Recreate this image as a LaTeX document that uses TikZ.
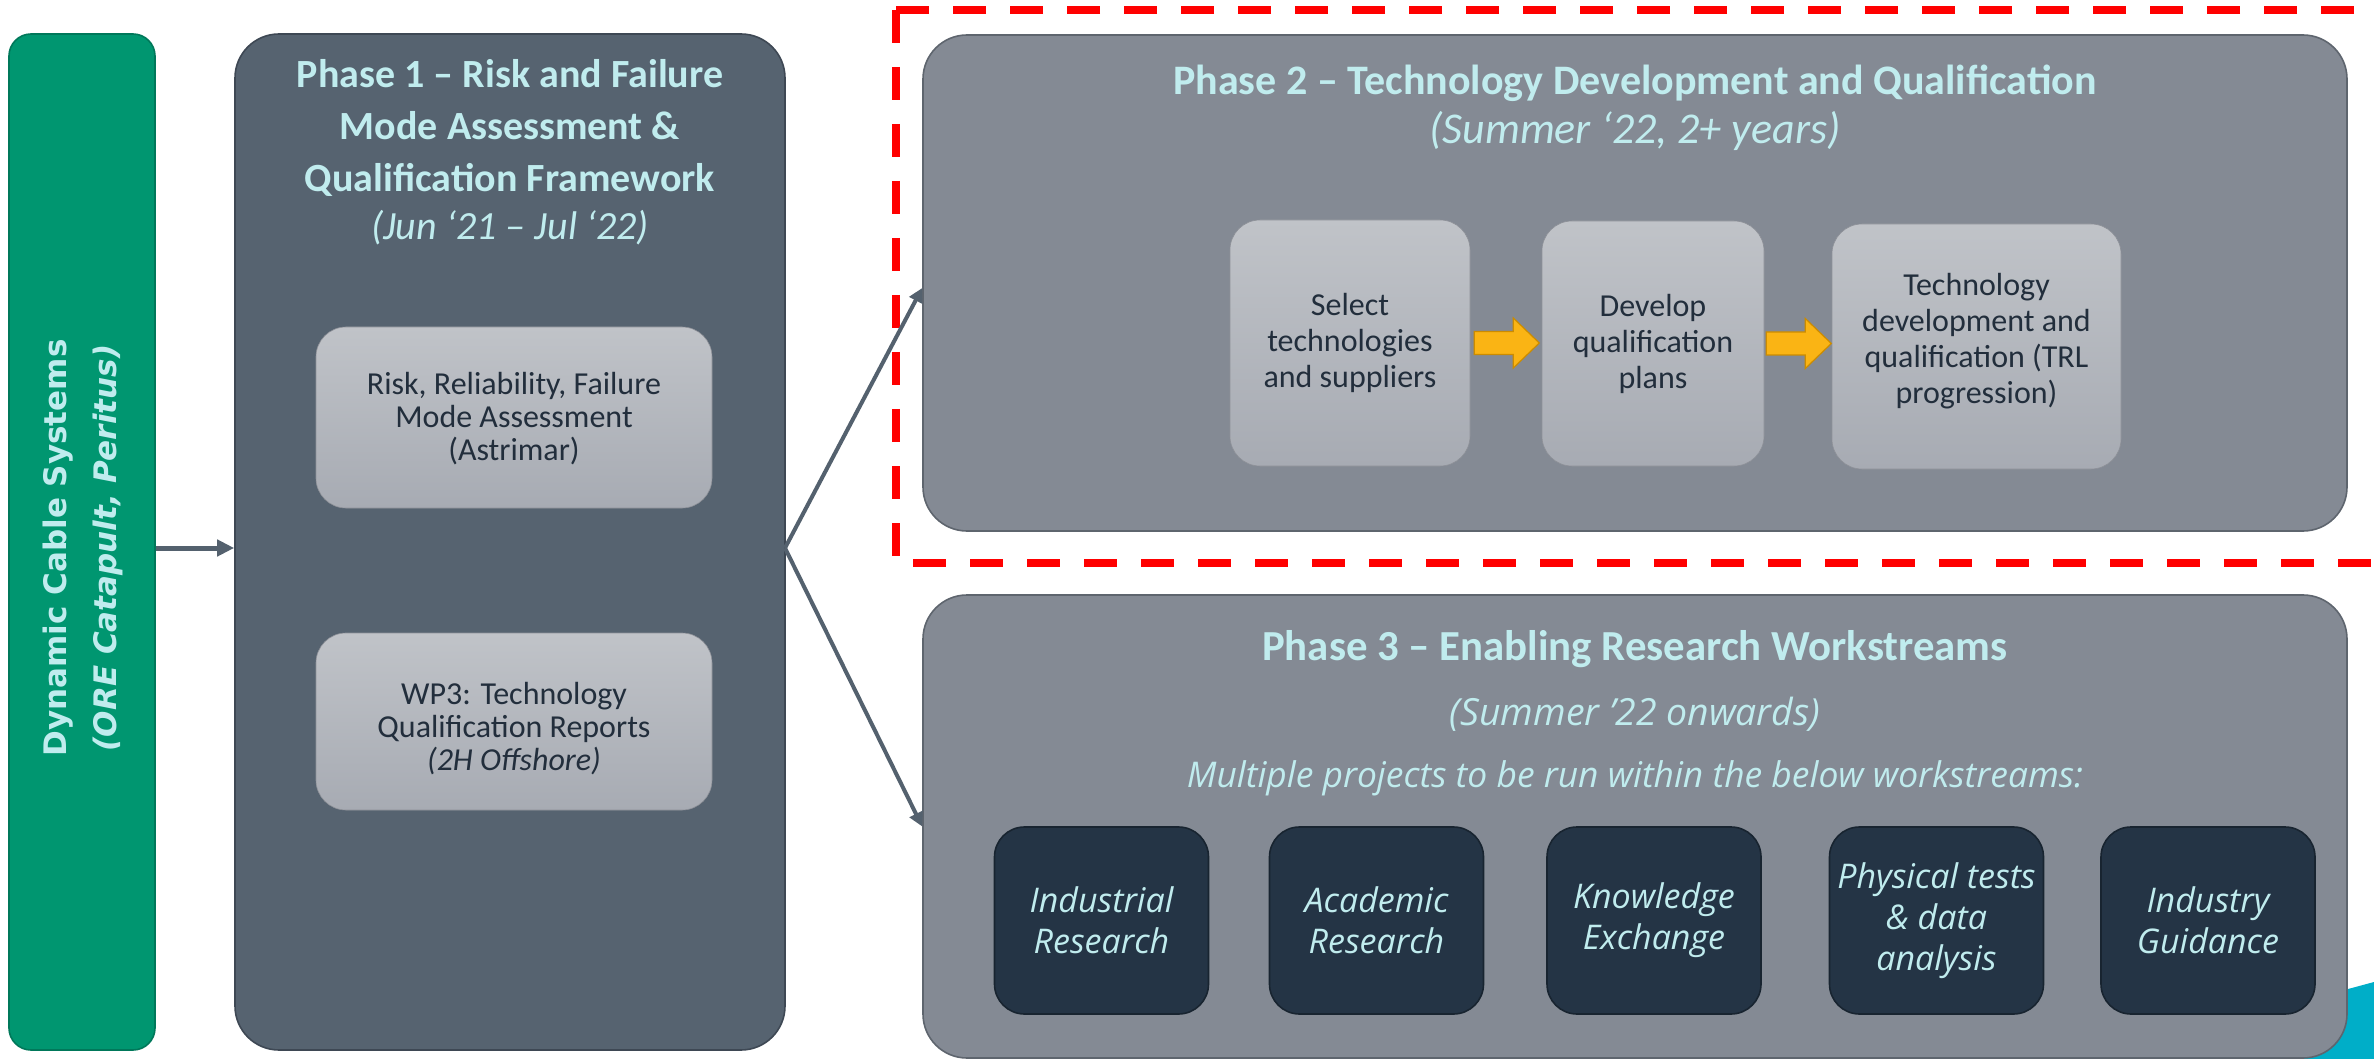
\documentclass[tikz,border=0pt]{standalone}
\usepackage{fontspec}
\setmainfont{Carlito}
\newfontfamily\osans{Open Sans}
\newfontfamily\dvs{DejaVu Sans}
\usetikzlibrary{arrows.meta,calc}
\definecolor{cgreen}{RGB}{0,150,112}
\definecolor{cpone}{RGB}{86,99,112}
\definecolor{cponeline}{RGB}{62,72,84}
\definecolor{cptwo}{RGB}{132,138,148}
\definecolor{cptwoline}{RGB}{94,101,110}
\definecolor{clighttop}{RGB}{192,195,200}
\definecolor{clightbot}{RGB}{167,171,179}
\definecolor{cdark}{RGB}{36,52,69}
\definecolor{cdarkline}{RGB}{24,36,48}
\definecolor{ctitle}{RGB}{192,236,238}
\definecolor{ctext}{RGB}{34,46,60}
\definecolor{cconn}{RGB}{84,97,110}
\definecolor{cyell}{RGB}{250,180,20}
\definecolor{cyellline}{RGB}{204,140,0}
\definecolor{ccyan}{RGB}{0,174,200}
\begin{document}
\begin{tikzpicture}[x=0.5pt,y=-0.5pt,
  bigbox/.style={draw, line width=0.8pt, rounded corners=22pt, inner sep=0pt},
  lightbox/.style={draw=clightbot!85!black, line width=0.3pt, rounded corners=15pt, top color=clighttop, bottom color=clightbot, inner sep=0pt, align=center, text=ctext},
  darkbox/.style={draw=cdarkline, line width=0.8pt, rounded corners=15pt, fill=cdark, inner sep=0pt, align=center, text=ctitle, minimum width=107pt, minimum height=93.5pt, font=\osans\itshape\fontsize{17pt}{20.5pt}\selectfont},
  titletext/.style={text=ctitle, align=center, inner sep=0pt, font=\bfseries\fontsize{20pt}{26pt}\selectfont},
  subtext/.style={text=ctitle, align=center, inner sep=0pt, font=\itshape\fontsize{20pt}{25pt}\selectfont},
  innertext/.style={text=ctext, align=center, inner sep=0pt},
  conn/.style={draw=cconn, line width=2pt, -{Triangle[length=7pt,width=7pt]}},
  fatarrow/.style={draw=cyellline, line width=0.6pt, fill=cyell, line join=miter}
]
\clip (0,0) rectangle (2374,1059);
\fill[white] (0,0) rectangle (2374,1059);

% cyan corner decoration
\fill[ccyan] (2300,1002) -- (2374,982) -- (2374,1059) -- (2300,1059) -- cycle;

% red dashed frame
\draw[red, line width=4pt, dash pattern=on 16.5pt off 12pt] (896,10) rectangle (2440,563);

% left green box
\node[bigbox, draw=cgreen!80!black, fill=cgreen, rounded corners=11pt, minimum width=73pt, minimum height=508pt] (g) at (82,542) {};
\node[rotate=90, align=center, text=ctitle, inner sep=0pt, font=\dvs\bfseries\fontsize{15.5pt}{25pt}\selectfont] (gt) at (83,548)
  {Dynamic Cable Systems\\\textit{(ORE Catapult, Peritus)}};

% phase 1
\node[bigbox, draw=cponeline, fill=cpone, minimum width=275pt, minimum height=508pt] (p1) at (510,542) {};
\node[titletext] (p1t) at (510,128) {Phase 1 – Risk and Failure\\Mode Assessment \&\\Qualification Framework};
\node[subtext] (p1s) at (510,228) {(Jun ‘21 – Jul ‘22)};
\node[lightbox, minimum width=198pt, minimum height=90.5pt] (risk) at (514,417.5) {};
\node[innertext, font=\fontsize{16pt}{16.5pt}\selectfont] (riskt) at (514,419)
  {Risk, Reliability, Failure\\Mode Assessment\\(Astrimar)};
\node[lightbox, minimum width=198pt, minimum height=88.5pt] (wp3) at (514,721.5) {};
\node[innertext, font=\fontsize{16pt}{16.5pt}\selectfont] (wp3t) at (514,729)
  {WP3: Technology\\Qualification Reports\\\textit{(2H Offshore)}};

% phase 2
\node[bigbox, draw=cptwoline, fill=cptwo, minimum width=712pt, minimum height=248pt] (p2) at (1635,283) {};
\node[titletext, font=\bfseries\fontsize{21pt}{26pt}\selectfont] (p2t) at (1635,83) {Phase 2 – Technology Development and Qualification};
\node[subtext, font=\itshape\fontsize{22pt}{26pt}\selectfont] (p2s) at (1635,131) {(Summer ‘22, 2+ years)};
\node[lightbox, minimum width=120pt, minimum height=123pt, font=\fontsize{16pt}{18pt}\selectfont] (sel) at (1350,343)
  {Select\\technologies\\and suppliers};
\node[lightbox, minimum width=111pt, minimum height=122.5pt, font=\fontsize{16pt}{18pt}\selectfont] (dev) at (1653,343.5)
  {Develop\\qualification\\plans};
\node[lightbox, minimum width=144.5pt, minimum height=122.5pt] (tech) at (1976.5,346.5) {};
\node[innertext, font=\fontsize{16pt}{18pt}\selectfont] (techt) at (1976.5,341)
  {Technology\\development and\\qualification (TRL\\progression)};
\draw[fatarrow] ($(sel.east)+(4,-11.5)$) -- ++(39,0) -- ++(0,-13.5) -- ++(26,25) -- ++(-26,25) -- ++(0,-13.5) -- ++(-39,0) -- cycle;
\draw[fatarrow] ($(dev.east)+(2,-11.5)$) -- ++(39,0) -- ++(0,-13.5) -- ++(26,25) -- ++(-26,25) -- ++(0,-13.5) -- ++(-39,0) -- cycle;

% phase 3
\node[bigbox, draw=cptwoline, fill=cptwo, minimum width=712pt, minimum height=231.5pt] (p3) at (1635,826.5) {};
\node[titletext, font=\bfseries\fontsize{21.4pt}{26pt}\selectfont] (p3t) at (1635,649) {Phase 3 – Enabling Research Workstreams};
\node[text=ctitle, inner sep=0pt, font=\osans\itshape\fontsize{18.7pt}{22pt}\selectfont] (p3s) at (1635,714) {(Summer ’22 onwards)};
\node[text=ctitle, inner sep=0pt, font=\osans\itshape\fontsize{17.7pt}{22pt}\selectfont] (p3m) at (1635,778) {Multiple projects to be run within the below workstreams:};
\node[darkbox] (w1) at (1101.5,920.5) {Industrial\\Research};
\node[darkbox] (w2) at (1376.5,920.5) {Academic\\Research};
\node[darkbox] (w3) at (1654,920.5) {Knowledge\\Exchange};
\node[darkbox] (w4) at (1936.5,920.5) {Physical tests\\\& data\\analysis};
\node[darkbox] (w5) at (2208,920.5) {Industry\\Guidance};

% connectors
\coordinate (j) at (785,548);
\draw[draw=cconn, line width=2.5pt, -{Triangle[length=8.5pt,width=8pt]}] (g.east |- j) -- (p1.west |- j);
\draw[conn] (j) -- ($(p2.west)+(0,5)$);
\draw[conn] (j) -- (p3.west);
\end{tikzpicture}
\end{document}
